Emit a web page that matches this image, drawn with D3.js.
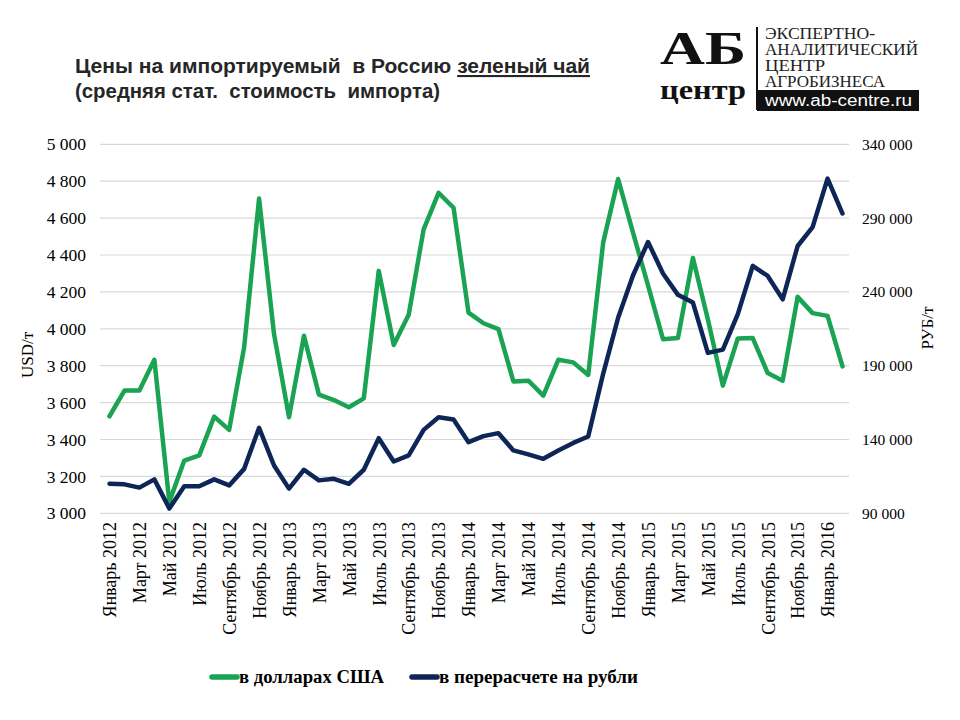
<!DOCTYPE html>
<html><head><meta charset="utf-8">
<script src="https://cdn.jsdelivr.net/npm/d3@7"></script>
<style>body{margin:0;background:#fff}svg{display:block}</style>
</head><body>
<svg id="chart" width="960" height="720"></svg>
<script>
const categories = [
 "Январь 2012","Февраль 2012","Март 2012","Апрель 2012","Май 2012","Июнь 2012","Июль 2012","Август 2012","Сентябрь 2012","Октябрь 2012","Ноябрь 2012","Декабрь 2012",
 "Январь 2013","Февраль 2013","Март 2013","Апрель 2013","Май 2013","Июнь 2013","Июль 2013","Август 2013","Сентябрь 2013","Октябрь 2013","Ноябрь 2013","Декабрь 2013",
 "Январь 2014","Февраль 2014","Март 2014","Апрель 2014","Май 2014","Июнь 2014","Июль 2014","Август 2014","Сентябрь 2014","Октябрь 2014","Ноябрь 2014","Декабрь 2014",
 "Январь 2015","Февраль 2015","Март 2015","Апрель 2015","Май 2015","Июнь 2015","Июль 2015","Август 2015","Сентябрь 2015","Октябрь 2015","Ноябрь 2015","Декабрь 2015",
 "Январь 2016","Февраль 2016"];
const usdValues = [
 3526,3665,3665,3832,3061,3286,3314,3524,3452,3899,4706,3971,
 3521,3962,3643,3614,3575,3623,4314,3912,4076,4539,4737,4656,
 4088,4030,3998,3715,3719,3638,3832,3818,3750,4467,4812,4520,
 4235,3944,3950,4384,4050,3692,3948,3950,3760,3719,4173,4085,
 4070,3796];
const rubValues = [
 110000,109600,107400,113000,93200,108300,108300,113000,108900,120100,147900,122400,
 106700,119500,112300,113400,110000,119500,140900,125100,129200,146500,155100,153500,
 138200,142300,144300,132600,129900,126900,132600,137700,142000,184500,222500,251300,
 273800,252500,238000,232800,198700,200900,224900,257600,250800,235000,271100,283900,
 316800,293100];
const usdTicks = [3000,3200,3400,3600,3800,4000,4200,4400,4600,4800,5000];
const rubTicks = [90000,140000,190000,240000,290000,340000];
const seriesNames = ["в долларах США","в перерасчете на рубли"];
const colors = ["#1aa352","#0e2657"];

const svg = d3.select("#chart");
const serif = "'Liberation Serif','Times New Roman',serif";

const x = d3.scalePoint().domain(categories).range([102, 850]).padding(0.5);
const yL = d3.scaleLinear().domain([3000, 5000]).range([513.3, 144.3]);
const yR = d3.scaleLinear().domain([90000, 340000]).range([513.3, 144.3]);

// gridlines
svg.append("g").selectAll("line").data(usdTicks).join("line")
  .attr("x1", 100).attr("x2", 849)
  .attr("y1", d => yL(d)).attr("y2", d => yL(d))
  .attr("stroke", "#d9d9d9").attr("stroke-width", 1.2);

const fmt = v => d3.format(",")(v).replace(/,/g, " ");

// left axis
const gL = svg.append("g").attr("transform", "translate(86,0)")
  .call(d3.axisLeft(yL).tickValues(usdTicks).tickSize(0).tickPadding(0).tickFormat(fmt));
gL.select(".domain").remove();
gL.selectAll("text").attr("font-family", serif).attr("font-size", 17.5).attr("fill", "#000");

// right axis
const gR = svg.append("g").attr("transform", "translate(862,0)")
  .call(d3.axisRight(yR).tickValues(rubTicks).tickSize(0).tickPadding(0).tickFormat(fmt));
gR.select(".domain").remove();
gR.selectAll("text").attr("font-family", serif).attr("font-size", 15.5).attr("fill", "#000");

// x axis labels
const gX = svg.append("g").attr("transform", "translate(0,522)")
  .call(d3.axisBottom(x).tickValues(categories.filter((d, i) => i % 2 === 0)).tickSize(0).tickPadding(0));
gX.select(".domain").remove();
gX.selectAll("text")
  .attr("font-family", serif).attr("font-size", 18).attr("fill", "#000")
  .attr("text-anchor", "end").attr("dy", "0.35em").attr("y", 0).attr("x", 0)
  .attr("transform", "rotate(-90)");

// axis titles
svg.append("text").attr("transform", "translate(33,355) rotate(-90)")
  .attr("text-anchor", "middle").attr("font-family", serif).attr("font-size", 17).text("USD/т");
svg.append("text").attr("transform", "translate(933,328) rotate(-90)")
  .attr("text-anchor", "middle").attr("font-family", serif).attr("font-size", 17).text("РУБ/т");

// lines
const lineL = d3.line().x((d, i) => x(categories[i])).y(d => yL(d));
const lineR = d3.line().x((d, i) => x(categories[i])).y(d => yR(d));
svg.append("path").datum(usdValues).attr("d", lineL).attr("fill", "none")
  .attr("stroke", colors[0]).attr("stroke-width", 4.5).attr("stroke-linejoin", "round").attr("stroke-linecap", "round");
svg.append("path").datum(rubValues).attr("d", lineR).attr("fill", "none")
  .attr("stroke", colors[1]).attr("stroke-width", 4.5).attr("stroke-linejoin", "round").attr("stroke-linecap", "round");

// legend
const legendX = [212, 412];
const legendLen = [145, 199];
seriesNames.forEach((n, i) => {
  svg.append("line").attr("x1", legendX[i]).attr("x2", legendX[i] + 25).attr("y1", 677).attr("y2", 677)
    .attr("stroke", colors[i]).attr("stroke-width", 5.5).attr("stroke-linecap", "round");
  svg.append("text").attr("x", legendX[i] + 27).attr("y", 683).attr("font-family", serif)
    .attr("font-weight", "bold").attr("font-size", 18.5).attr("fill", "#000")
    .attr("textLength", legendLen[i]).attr("lengthAdjust", "spacingAndGlyphs").text(n);
});

// title
const sans = "'Liberation Sans Narrow','Arial Narrow','Liberation Sans',sans-serif";
const t1 = svg.append("text").attr("x", 75).attr("y", 73).attr("font-family", sans)
  .attr("font-weight", "bold").attr("font-size", 21).attr("fill", "#262626")
  .style("white-space", "pre")
  .attr("textLength", 515).attr("lengthAdjust", "spacingAndGlyphs");
t1.append("tspan").text("Цены на импортируемый  в Россию ");
t1.append("tspan").attr("text-decoration", "underline").text("зеленый чай");
svg.append("text").attr("x", 75).attr("y", 98).attr("font-family", sans)
  .attr("font-weight", "bold").attr("font-size", 21).attr("fill", "#262626")
  .style("white-space", "pre")
  .attr("textLength", 365).attr("lengthAdjust", "spacingAndGlyphs")
  .text("(средняя стат.  стоимость  импорта)");

// logo
const logo = svg.append("g");
logo.append("text").attr("x", 660).attr("y", 64).attr("font-family", serif).attr("font-weight", "bold")
  .attr("font-size", 47).attr("textLength", 86).attr("lengthAdjust", "spacingAndGlyphs").attr("fill", "#111").text("АБ");
logo.append("text").attr("x", 660).attr("y", 99).attr("font-family", serif).attr("font-weight", "bold")
  .attr("font-size", 28).attr("textLength", 86).attr("lengthAdjust", "spacingAndGlyphs").attr("fill", "#111").text("центр");
logo.append("line").attr("x1", 757).attr("x2", 757).attr("y1", 27).attr("y2", 110).attr("stroke", "#111").attr("stroke-width", 2);
const logoLines = ["ЭКСПЕРТНО-","АНАЛИТИЧЕСКИЙ","ЦЕНТР","АГРОБИЗНЕСА"];
const logoLens = [110, 153, 60, 120];
logoLines.forEach((s, i) => {
  logo.append("text").attr("x", 765).attr("y", 39 + i * 16).attr("font-family", serif)
    .attr("font-size", 16).attr("textLength", logoLens[i]).attr("lengthAdjust", "spacingAndGlyphs").attr("fill", "#222").text(s);
});
logo.append("rect").attr("x", 757).attr("y", 90).attr("width", 162).attr("height", 21).attr("fill", "#111");
logo.append("text").attr("x", 765).attr("y", 106).attr("font-family", "'Liberation Sans Narrow','Liberation Sans',sans-serif")
  .attr("font-size", 16).attr("textLength", 147).attr("lengthAdjust", "spacingAndGlyphs").attr("fill", "#fff").text("www.ab-centre.ru");
</script>
</body></html>
